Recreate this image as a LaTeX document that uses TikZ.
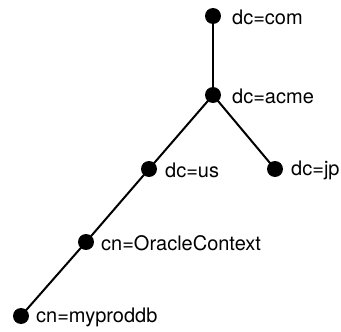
\documentclass[tikz,border=0pt]{standalone}
\usepackage{fontspec}
\setmainfont{TeX Gyre Heros}
\begin{document}
\begin{tikzpicture}[x=1pt,y=-1pt,
  dot/.style={circle,fill=black,inner sep=0pt,minimum size=16pt},
  lab/.style={anchor=west,inner sep=0pt,font=\fontsize{20}{22}\selectfont},
  edge/.style={line width=2pt}]
\useasboundingbox (0,0) rectangle (341,332);
\node[dot] (com) at (213,16) {};
\node[dot] (acme) at (213,95) {};
\node[dot] (us) at (149,169) {};
\node[dot] (jp) at (275,169) {};
\node[dot] (oc) at (86,242) {};
\node[dot] (db) at (21,316) {};
\draw[edge] (com.center) -- (acme.center);
\draw[edge] (acme.center) -- (us.center);
\draw[edge] (acme.center) -- (jp.center);
\draw[edge] (us.center) -- (oc.center);
\draw[edge] (oc.center) -- (db.center);
\node[lab] (tcom) at (232,17) {dc=com};
\node[lab] (tacme) at (232,96) {dc=acme};
\node[lab] (tus) at (165,170) {dc=us};
\node[lab] (tjp) at (291,170) {dc=jp};
\node[lab] (toc) at (101,243) {cn=OracleContext};
\node[lab] (tdb) at (36,317) {cn=myproddb};
\end{tikzpicture}
\end{document}
